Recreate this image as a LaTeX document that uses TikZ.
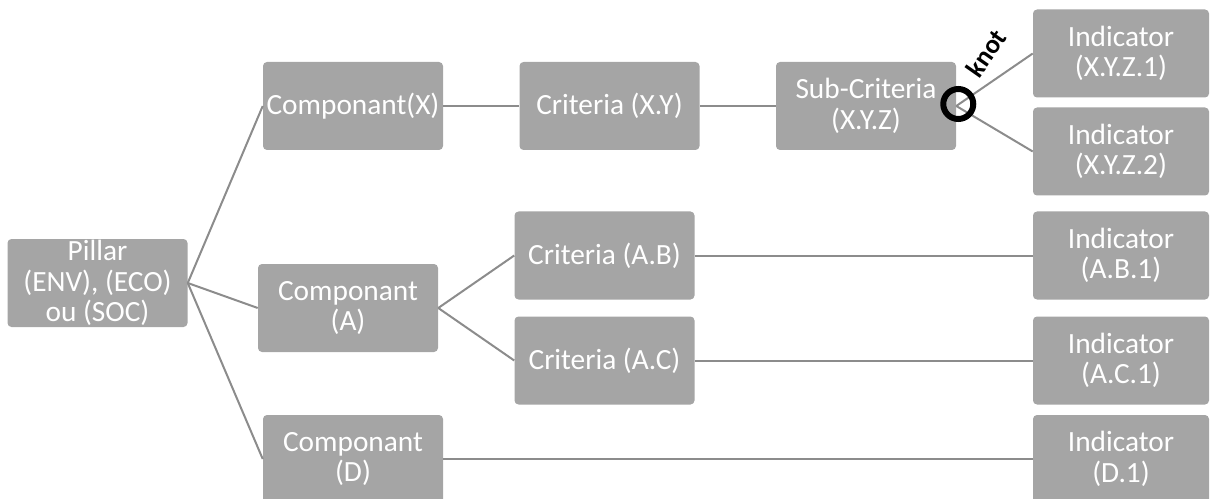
\documentclass[tikz,border=0pt]{standalone}
\usepackage{fontspec}
\setmainfont{Carlito}
\usetikzlibrary{calc}
\definecolor{boxGray}{HTML}{A5A5A5}
\definecolor{lineGray}{HTML}{8C8C8C}
\tikzset{
  box/.style={fill=boxGray, text=white, rounded corners=3pt, align=center, inner sep=0pt,
    minimum width=135pt, minimum height=66pt, font=\fontsize{22}{23}\selectfont},
  indbox/.style={box, minimum width=132pt},
  link/.style={draw=lineGray, line width=1.5pt}
}
\newcommand{\drawLink}[2]{
   	\draw[link] (#1) -- (#2) ;
}

\begin{document}
\begin{tikzpicture}[x=0.75pt, y=-0.75pt]
%%%%%%%%%%%%%%%%%%
\useasboundingbox (0,0) rectangle (1210,499);
\clip (0,0) rectangle (1210,499);

%Boxes
\node[box] (pillar) at (97.5,283) {Pillar\\(ENV), (ECO)\\ou (SOC)};
\node[box] (compX) at (353,106) {Componant(X)};
\node[box] (compA) at (348,308) {Componant\\(A)};
\node[box] (compD) at (353,459) {Componant\\(D)};
\node[box] (critXY) at (609.5,106) {Criteria (X.Y)};
\node[box] (critAB) at (604.5,255.5) {Criteria (A.B)};
\node[box] (critAC) at (604.5,360.5) {Criteria (A.C)};
\node[box] (subXYZ) at (866,106) {Sub-Criteria\\(X.Y.Z)};

%Indicators
\foreach \name/\y/\lbl in {indXYZa/53.5/X.Y.Z.1, indXYZb/151.5/X.Y.Z.2, indABa/255.5/A.B.1, indACa/360.5/A.C.1, indDa/459/D.1}
{
	\node[indbox] (\name) at (1121,\y) {Indicator\\(\lbl)};
}

% Connect boxes
\drawLink{pillar.east}{compX.west}
\drawLink{pillar.east}{compA.west}
\drawLink{pillar.east}{compD.west}
\drawLink{compX.east}{critXY.west}
\drawLink{critXY.east}{subXYZ.west}
\drawLink{compA.east}{critAB.west}
\drawLink{compA.east}{critAC.west}
\drawLink{subXYZ.east}{indXYZa.west}
\drawLink{subXYZ.east}{indXYZb.west}
\drawLink{critAB.east}{indABa.west}
\drawLink{critAC.east}{indACa.west}
\drawLink{compD.east}{indDa.west}

% Knot
\node[draw=black, circle, line width=4.5pt, minimum size=22.5pt, inner sep=0pt] (knot) at ($(subXYZ.east)+(2,-2)$) {};
\node[rotate=55, font=\bfseries\fontsize{20}{20}\selectfont] (knotLabel) at (986,53) {knot};
\end{tikzpicture}
\end{document}
